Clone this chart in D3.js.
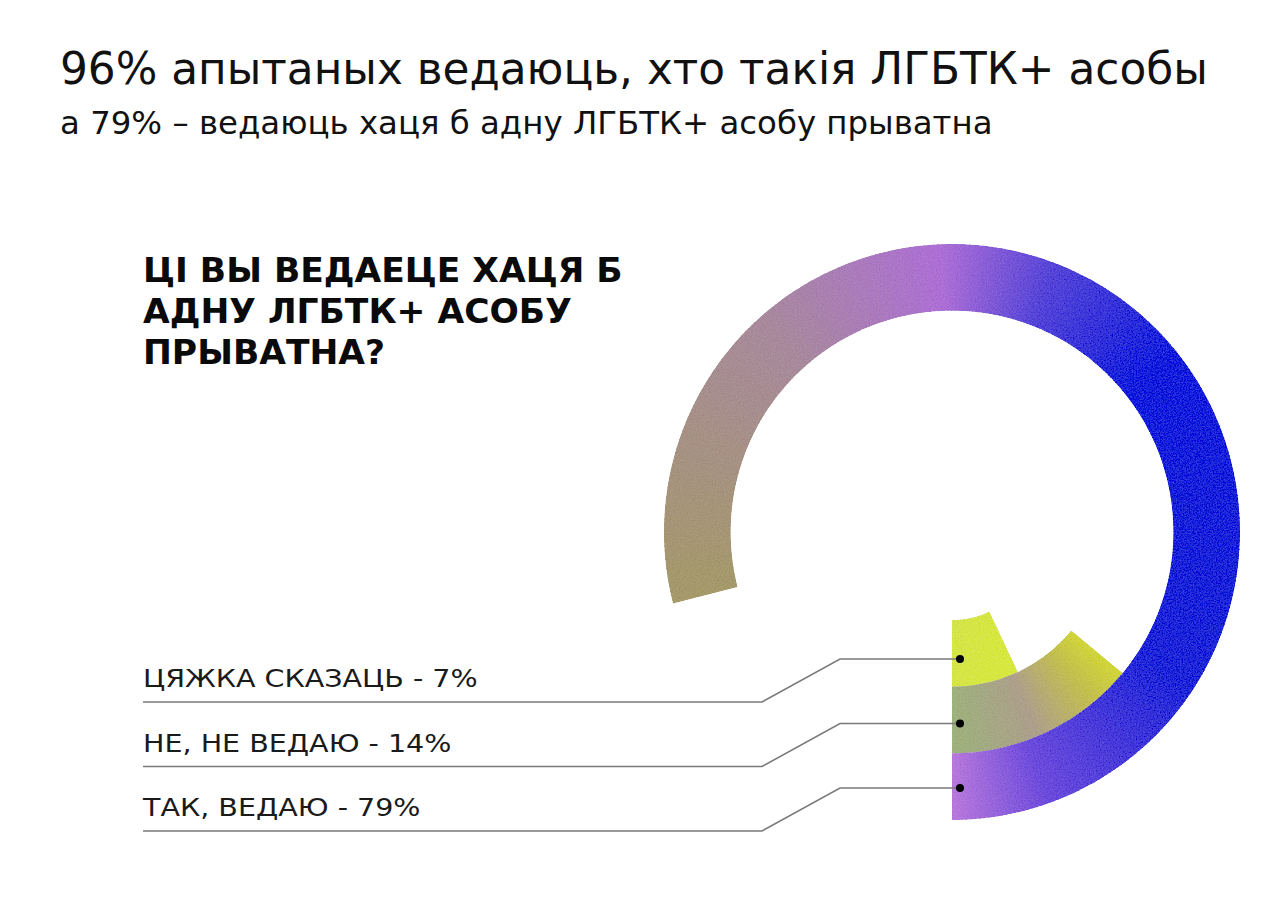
<!DOCTYPE html>
<html>
<head>
<meta charset="utf-8">
<script src="https://cdn.jsdelivr.net/npm/d3@7"></script>
<style>
  html, body { margin: 0; padding: 0; background: #ffffff; }
  svg { display: block; }
</style>
</head>
<body>
<div id="chart"></div>
<script>
// ---- data ----
const title = "96% апытаных ведаюць, хто такія ЛГБТК+ асобы";
const subtitle = "а 79% – ведаюць хаця б адну ЛГБТК+ асобу прыватна";
const questionLines = ["ЦІ ВЫ ВЕДАЕЦЕ ХАЦЯ Б", "АДНУ ЛГБТК+ АСОБУ", "ПРЫВАТНА?"];
const categories = ["ЦЯЖКА СКАЗАЦЬ", "НЕ, НЕ ВЕДАЮ", "ТАК, ВЕДАЮ"];   // inner -> outer ring
const values = [7, 14, 79];                                          // percent

// ---- layout / style ----
const W = 1288, H = 906;
const cx = 952, cy = 532;

const svg = d3.select("#chart").append("svg")
  .attr("width", W).attr("height", H);

const defs = svg.append("defs");
const f = defs.append("filter").attr("id", "grain")
  .attr("x", "-5%").attr("y", "-5%").attr("width", "110%").attr("height", "110%");
f.append("feTurbulence").attr("type", "fractalNoise").attr("baseFrequency", 0.7)
  .attr("numOctaves", 2).attr("seed", 7).attr("result", "noise");
f.append("feColorMatrix").attr("in", "noise").attr("type", "matrix")
  .attr("values", "0.33 0.33 0.33 0 0  0.33 0.33 0.33 0 0  0.33 0.33 0.33 0 0  0 0 0 0 1")
  .attr("result", "gray");
f.append("feComposite").attr("in", "SourceGraphic").attr("in2", "gray")
  .attr("operator", "arithmetic").attr("k1", 0).attr("k2", 1).attr("k3", 0.22).attr("k4", -0.11)
  .attr("result", "mix");
f.append("feComposite").attr("in", "mix").attr("in2", "SourceGraphic")
  .attr("operator", "in").attr("result", "clip");
f.append("feGaussianBlur").attr("in", "clip").attr("stdDeviation", 0.5);

// title & subtitle
svg.append("text").attr("x", 60).attr("y", 84)
  .attr("font-family", "DejaVu Sans, Verdana, sans-serif").attr("font-size", 43.8)
  .attr("fill", "#111").text(title);
svg.append("text").attr("x", 60).attr("y", 134)
  .attr("font-family", "DejaVu Sans, Verdana, sans-serif").attr("font-size", 32.4)
  .attr("fill", "#111").text(subtitle);

// question
const q = svg.append("g").attr("transform", "translate(143,0)");
q.selectAll("text").data(questionLines).join("text")
  .attr("x", 0).attr("y", (d, i) => 282 + i * 41)
  .attr("font-family", "DejaVu Sans, sans-serif").attr("font-weight", "bold")
  .attr("font-size", 34.5).attr("fill", "#0a0a0a")
  .text(d => d);

// scales
const rScale = d3.scaleBand().domain(categories).range([88, 288]).paddingInner(0);
const angle = d3.scaleLinear().domain([0, 100]).range([Math.PI, -Math.PI]); // from bottom, counter-clockwise

// colour ramps along each ring (fraction of ring length)
const ramps = {
  "ТАК, ВЕДАЮ": d3.scaleLinear()
    .domain([0, 0.07, 0.2, 0.45, 0.56, 0.64, 0.78, 1])
    .range(["#b979dc", "#6c4cdc", "#2128d8", "#1420dc", "#5646d8", "#ad6fd6", "#a88a9c", "#a59a6a"])
    .interpolate(d3.interpolateRgb),
  "НЕ, НЕ ВЕДАЮ": d3.scaleLinear()
    .domain([0, 0.45, 0.8, 1])
    .range(["#9db27c", "#ad9f8c", "#c4c04e", "#d2d63a"]),
  "ЦЯЖКА СКАЗАЦЬ": d3.scaleLinear()
    .domain([0, 1])
    .range(["#d6e648", "#d8e83e"])
};

const arcGen = d3.arc();
const ringsG = svg.append("g").attr("transform", `translate(${cx},${cy})`).attr("filter", "url(#grain)");

categories.forEach((cat, ci) => {
  const v = values[ci];
  const n = Math.max(20, Math.round(v * 4));
  const segs = d3.range(n).map(i => ({
    t0: v * i / n, t1: v * (i + 1) / n, frac: (i + 0.5) / n
  }));
  const r0 = rScale(cat), r1 = rScale(cat) + rScale.bandwidth();
  ringsG.append("g").selectAll("path").data(segs).join("path")
    .attr("d", d => arcGen({
      innerRadius: r0, outerRadius: r1,
      startAngle: angle(d.t0),
      endAngle: d.t1 >= v ? angle(d.t1) : angle(Math.min(v, d.t1 + 0.06))
    }))
    .attr("fill", d => ramps[cat](d.frac));
});

// labels with leader lines
const rowY = d3.scalePoint().domain(categories).range([659, 788]);
const labelG = svg.append("g");
categories.forEach((cat, ci) => {
  const dy = rowY(cat);
  const ly = dy + 43;
  labelG.append("path")
    .attr("d", d3.line()([[143, ly], [762, ly], [840, dy], [960, dy]]))
    .attr("fill", "none").attr("stroke", "#7a7a7a").attr("stroke-width", 1.6);
  labelG.append("circle").attr("cx", 960).attr("cy", dy).attr("r", 4).attr("fill", "#000");
  labelG.append("text")
    .attr("transform", `translate(143,${dy + 28}) scale(1.19,1)`)
    .attr("font-family", "DejaVu Sans, sans-serif").attr("font-size", 24)
    .attr("fill", "#1a1a1a")
    .text(`${cat} - ${values[ci]}%`);
});
</script>
</body>
</html>
